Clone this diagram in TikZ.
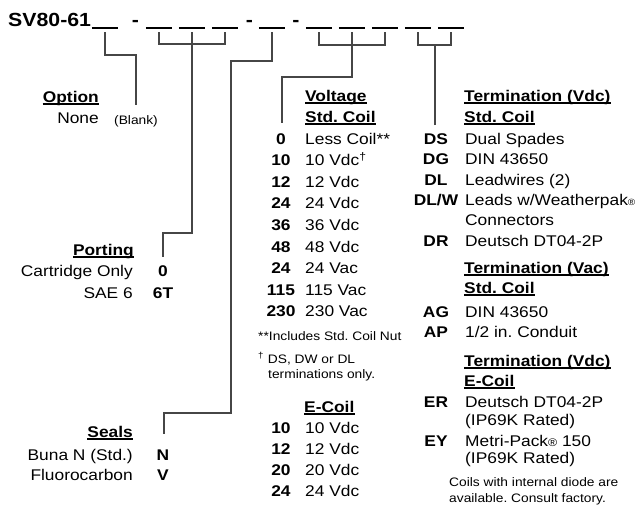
\documentclass[tikz,border=0pt]{standalone}
\usepackage{fontspec}
\setmainfont{Liberation Sans}[FakeStretch=1.12]
\usetikzlibrary{positioning}
\definecolor{leadgray}{RGB}{70,70,70}
\frenchspacing

\begin{document}
\begin{tikzpicture}[
    x = 1pt, y = -1pt, % pixel grid, y runs downwards
    lead/.style = {draw = leadgray, line width = 1.3pt}, % connector lines
    slot/.style = {minimum width = 26pt, minimum height = 0pt, inner sep = 0pt},
    title/.style = {font = \fontsize{19}{19}\selectfont\bfseries, inner sep = 0pt, anchor = base west},
    txt/.style = {font = \fontsize{15.5}{15.5}\selectfont, inner sep = 0pt},
    code/.style = {font = \fontsize{15.5}{15.5}\selectfont\bfseries, inner sep = 0pt, anchor = base},
    heading/.style = {font = \fontsize{15.5}{15.5}\selectfont\bfseries, inner sep = 0pt},
    note/.style = {font = \fontsize{12.3}{12.3}\selectfont, inner sep = 0pt, anchor = base west},
    uline/.style = {draw = black, line width = 1.2pt}
    ]
    \useasboundingbox (0,0) rectangle (643,506);

    % model code
    \node[title] (model) at (8,26) {SV80-61};
    \foreach \n/\xc in {1/105, 2/159, 3/192, 4/225, 5/272, 6/319, 7/352, 8/385, 9/418, 10/451}
        \node[slot] (b\n) at (\xc,28) {};
    \foreach \n in {1,...,10}
        \draw[black, line width = 1.2pt] (b\n.west) -- (b\n.east);
    \node[title, anchor = base] (d1) at (135.5,26) {-};
    \node[title, anchor = base] (d2) at (249.5,26) {-};
    \node[title, anchor = base] (d3) at (296,26) {-};

    % connectors
    \coordinate (optend) at (136,105);
    \coordinate (portend) at (163,257);
    \coordinate (sealend) at (164,434);
    \coordinate (voltend) at (282,123);
    \coordinate (termend) at (435,125);

    \draw[lead] ([yshift=-4pt]b1.center) -- ++(0,23) -| (optend);
    \draw[lead] ([yshift=-4pt]b2.center) -- ++(0,12) -| ([yshift=-4pt]b4.center);
    \draw[lead] ([yshift=-4pt]b3.center) -- ++(0,201) -| (portend);
    \draw[lead] ([yshift=-4pt]b5.center) -- ++(0,29) -| (231,413) -| (sealend);
    \draw[lead] ([yshift=-4pt]b6.center) -- ++(0,13) -| ([yshift=-4pt]b8.center);
    \draw[lead] ([yshift=-4pt]b7.center) -- ++(0,45) -| (voltend);
    \draw[lead] ([yshift=-4pt]b9.center) -- ++(0,13) -| ([yshift=-4pt]b10.center);
    \draw[lead] (termend) -- ++(0,-80);

    % option, porting, seals
    \node[heading, anchor = base east] (hopt) at (99,102) {Option};
    \node[txt, anchor = base east] (none) at (99,123) {None};
    \node[note] (blank) at (114,124) {(Blank)};
    \node[heading, anchor = base east] (hport) at (134,255) {Porting};
    \node[txt, anchor = base east] (cart) at (133,276) {Cartridge Only};
    \node[code] (p0) at (163,276) {0};
    \node[txt, anchor = base east] (sae) at (133,298) {SAE 6};
    \node[code] (p6t) at (163,298) {6T};
    \node[heading, anchor = base east] (hseal) at (133,437) {Seals};
    \node[txt, anchor = base east] (buna) at (133,460) {Buna N (Std.)};
    \node[code] (sn) at (163,460) {N};
    \node[txt, anchor = base east] (fluoro) at (133,480) {Fluorocarbon};
    \node[code] (sv) at (163,480) {V};

    % voltage
    \node[heading, anchor = base west] (hvolt) at (305,101) {Voltage};
    \node[heading, anchor = base west] (hstd) at (305,122) {Std. Coil};
    \foreach \num/\txt [count=\i from 0] in {0/Less Coil**, 10/10 Vdc\textsuperscript{†},
        12/12 Vdc, 24/24 Vdc, 36/36 Vdc, 48/48 Vdc, 24/24 Vac, 115/115 Vac, 230/230 Vac} {
        \node[code] (vc\i) at (281,144+21.6*\i) {\num};
        \node[txt, anchor = base west] (vd\i) at (305,144+21.6*\i) {\txt};
    }
    \node[note] (inc) at (258,340) {**Includes Std. Coil Nut};
    \node[note] (dag) at (258,363) {\textsuperscript{†} DS, DW or DL};
    \node[note] (termonly) at (268,378) {terminations only.};

    \node[heading, anchor = base west] (hecoil) at (304,412) {E-Coil};
    \foreach \num [count=\i from 0] in {10,12,20,24} {
        \node[code] (ec\i) at (281,433+21.3*\i) {\num};
        \node[txt, anchor = base west] (ed\i) at (305,433+21.3*\i) {\num\ Vdc};
    }

    % termination
    \node[heading, anchor = base west] (htdc) at (464,101) {Termination (Vdc)};
    \node[heading, anchor = base west] (htdcstd) at (464,122) {Std. Coil};
    \foreach \cd/\txt/\yy [count=\i] in {DS/Dual Spades/144, DG/DIN 43650/164.5,
        DL/Leadwires (2)/185, DL\slash W/Leads w\slash Weatherpak{\fontsize{9}{9}\selectfont ®}/205.5,
        DR/Deutsch DT04-2P/246} {
        \node[code] (tc\i) at (436,\yy) {\cd};
        \node[txt, anchor = base west] (td\i) at (465,\yy) {\txt};
    }
    \node[txt, anchor = base west] (conn) at (465,225) {Connectors};

    \node[heading, anchor = base west] (htac) at (464,273) {Termination (Vac)};
    \node[heading, anchor = base west] (htacstd) at (464,293) {Std. Coil};
    \node[code] (ag) at (436,317) {AG};
    \node[txt, anchor = base west] (agd) at (465,317) {DIN 43650};
    \node[code] (ap) at (436,337) {AP};
    \node[txt, anchor = base west] (apd) at (465,337) {1/2 in. Conduit};

    \node[heading, anchor = base west] (htec) at (464,366) {Termination (Vdc)};
    \node[heading, anchor = base west] (hteccoil) at (464,386) {E-Coil};
    \node[code] (er) at (436,407) {ER};
    \node[txt, anchor = base west] (erd) at (465,407) {Deutsch DT04-2P};
    \node[txt, anchor = base west] (erip) at (465,425) {(IP69K Rated)};
    \node[code] (ey) at (436,446) {EY};
    \node[txt, anchor = base west] (eyd) at (465,446) {Metri-Pack{\fontsize{11}{11}\selectfont ®} 150};
    \node[txt, anchor = base west] (eyip) at (465,463) {(IP69K Rated)};
    \node[note] (diode1) at (449,486) {Coils with internal diode are};
    \node[note] (diode2) at (449,502) {available. Consult factory.};

    % heading underlines
    \foreach \h in {hopt,hport,hseal,hvolt,hstd,hecoil,htdc,htdcstd,htac,htacstd,htec,hteccoil}
        \draw[uline] ([yshift=-2pt]\h.base west) -- ([yshift=-2pt]\h.base east);
\end{tikzpicture}
\end{document}
